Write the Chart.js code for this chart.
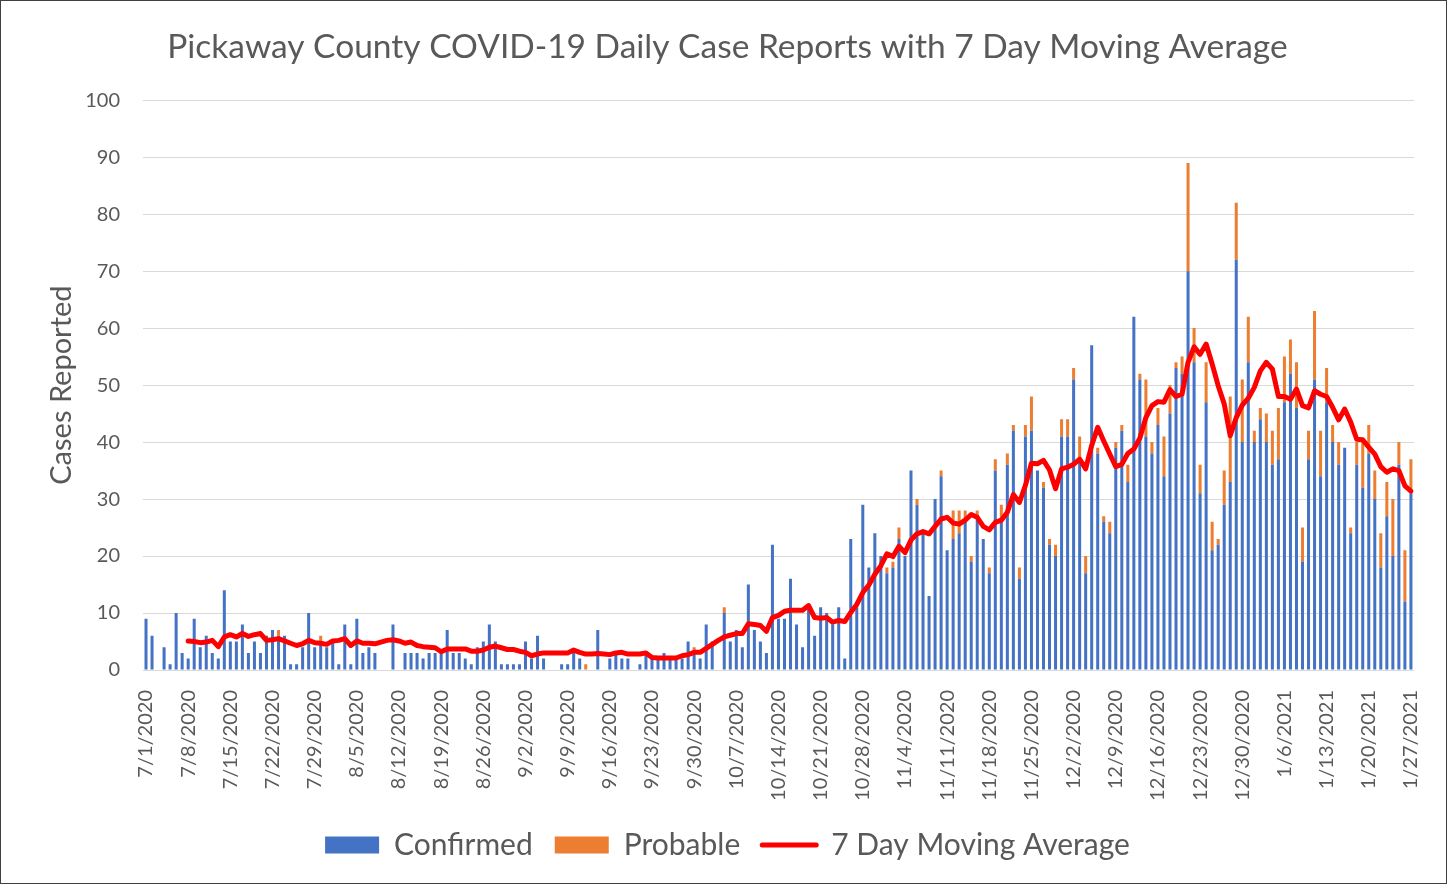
<!DOCTYPE html>
<html>
<head>
<meta charset="utf-8">
<script src="https://cdn.jsdelivr.net/npm/chart.js@4.4.1/dist/chart.umd.min.js"></script>
<style>
  html, body { margin: 0; padding: 0; background: #fff; }
  #wrap { width: 1447px; height: 884px; position: relative; }
</style>
</head>
<body>
<div id="wrap"><canvas id="c" width="1447" height="884"></canvas></div>
<script>
// ---- Data ----
const startDate = [2020, 6, 1]; // 7/1/2020
const dayCount = 211;           // 7/1/2020 .. 1/27/2021

const tickLabels = ["7/1/2020","7/8/2020","7/15/2020","7/22/2020","7/29/2020","8/5/2020","8/12/2020","8/19/2020","8/26/2020","9/2/2020","9/9/2020","9/16/2020","9/23/2020","9/30/2020","10/7/2020","10/14/2020","10/21/2020","10/28/2020","11/4/2020","11/11/2020","11/18/2020","11/25/2020","12/2/2020","12/9/2020","12/16/2020","12/23/2020","12/30/2020","1/6/2021","1/13/2021","1/20/2021","1/27/2021"];

const confirmed = [
  9,6,0,4,1,10,3,2,9,4, 6,3,2,14,5,5,8,3,5,3,
  6,7,6,6,1,1,4,10,4,5, 4,5,1,8,1,9,3,4,3,0,
  0,8,0,3,3,3,2,3,3,3, 7,3,3,2,1,4,5,8,5,1,
  1,1,1,5,2,6,2,0,0,1, 1,3,2,0,0,7,0,2,3,2,
  2,0,1,3,2,2,3,2,2,2, 5,3,2,8,5,0,10,5,7,4,
  15,7,5,3,22,9,9,16,8,4, 11,6,11,10,8,11,2,23,11,29,
  18,24,20,17,18,23,20,35,29,24, 13,30,34,21,23,24,26,19,27,23,
  17,35,26,36,42,16,41,42,35,32, 22,20,41,41,51,37,17,57,38,26,
  24,39,42,33,62,51,41,38,43,34, 45,53,52,70,54,31,47,21,22,29,
  33,72,40,54,40,44,40,36,37,47, 52,46,19,37,51,34,47,40,36,39,
  24,36,32,38,30,18,27,20,36,12, 31
];

const probable = [
  0,0,0,0,0,0,0,0,0,0, 0,0,0,0,0,0,0,0,0,0,
  0,0,1,0,0,0,0,0,0,1, 0,0,0,0,0,0,0,0,0,0,
  0,0,0,0,0,0,0,0,0,0, 0,0,0,0,0,0,0,0,0,0,
  0,0,0,0,0,0,0,0,0,0, 0,0,0,1,0,0,0,0,0,0,
  0,0,0,0,0,0,0,0,0,0, 0,1,0,0,0,0,1,0,0,0,
  0,0,0,0,0,0,0,0,0,0, 0,0,0,0,0,0,0,0,0,0,
  0,0,0,1,1,2,0,0,1,0, 0,0,1,0,5,4,2,1,1,0,
  1,2,3,2,1,2,2,6,0,1, 1,2,3,3,2,4,3,0,1,1,
  2,1,1,3,0,1,10,2,3,7, 5,1,3,19,6,5,7,5,1,6,
  15,10,11,8,2,2,5,6,9,8, 6,8,6,5,12,8,6,3,4,0,
  1,4,8,5,5,6,6,10,4,9, 6
];

const movingAvg = [
  null,null,null,null,null,null,null,5.1,5.0,4.8,
  4.9,5.2,4.1,5.8,6.2,5.8,6.4,5.9,6.2,6.4,
  5.2,5.3,5.5,5.1,4.7,4.3,4.6,5.2,4.8,4.7,
  4.5,5.1,5.2,5.5,4.3,5.1,4.7,4.7,4.6,4.9,
  5.2,5.3,5.1,4.7,4.9,4.3,4.1,4.0,3.9,3.2,
  3.7,3.7,3.7,3.7,3.3,3.3,3.5,4.0,4.2,3.9,
  3.6,3.6,3.3,3.1,2.5,2.8,3.0,3.0,3.0,3.0,
  3.0,3.5,3.1,2.8,2.8,2.9,2.8,2.7,3.0,3.1,
  2.8,2.8,2.8,3.0,2.2,2.1,2.1,2.1,2.1,2.5,
  2.7,3.1,3.1,3.8,4.5,5.2,5.8,6.1,6.4,6.4,
  8.1,8.0,7.8,6.8,9.2,9.6,10.3,10.5,10.5,10.5,
  11.3,9.2,9.1,9.2,8.4,8.7,8.5,10.1,11.5,13.6,
  14.9,16.8,18.3,20.4,19.9,21.7,20.6,22.8,23.9,24.3,
  23.9,25.2,26.5,26.8,25.8,25.6,26.3,27.3,26.8,25.2,
  24.6,25.9,26.3,27.7,30.8,29.4,32.4,36.3,36.2,36.8,
  35.1,31.8,35.3,35.6,36.1,37.0,35.3,39.4,42.6,40.2,
  37.9,35.7,36.1,38.0,38.8,40.7,44.3,46.4,47.1,47.0,
  49.2,48.0,48.4,54.0,56.7,55.4,57.2,53.7,49.9,46.7,
  41.1,44.3,46.5,47.7,49.6,52.5,54.0,52.8,48.0,48.0,
  47.5,49.3,46.4,46.0,49.0,48.4,48.0,46.1,43.9,45.8,
  43.5,40.5,40.4,39.1,37.9,35.7,34.7,35.3,35.0,32.3,
  31.4
];

// category labels: one per day
const categories = [];
for (let i = 0; i < dayCount; i++) {
  const d = new Date(startDate[0], startDate[1], startDate[2] + i);
  categories.push((d.getMonth() + 1) + '/' + d.getDate() + '/' + d.getFullYear());
}

const TXT = '#595959';
const FONT = 'Lato';

const borderPlugin = {
  id: 'outerBorder',
  beforeDraw(chart) {
    const ctx = chart.ctx;
    ctx.save();
    ctx.fillStyle = '#ffffff';
    ctx.fillRect(0, 0, chart.width, chart.height);
    ctx.restore();
  },
  afterDraw(chart) {
    const ctx = chart.ctx;
    ctx.save();
    ctx.strokeStyle = '#404040';
    ctx.lineWidth = 1;
    ctx.strokeRect(0.5, 0.5, chart.width - 1, chart.height - 1);
    ctx.restore();
  }
};

function build() {
  new Chart(document.getElementById('c'), {
    type: 'bar',
    data: {
      labels: categories,
      datasets: [
        { label: 'Confirmed', data: confirmed, backgroundColor: '#4472C4', borderWidth: 0,
          categoryPercentage: 1.0, barPercentage: 0.5, order: 1 },
        { label: 'Probable', data: probable, backgroundColor: '#ED7D31', borderWidth: 0,
          categoryPercentage: 1.0, barPercentage: 0.5, order: 1 },
        { type: 'line', label: '7 Day Moving Average', data: movingAvg,
          borderColor: '#FF0000', backgroundColor: '#FF0000', borderWidth: 5,
          pointRadius: 0, tension: 0, borderCapStyle: 'round', borderJoinStyle: 'round',
          fill: false, order: -1 }
      ]
    },
    options: {
      responsive: false,
      animation: false,
      devicePixelRatio: 1,
      layout: { padding: { left: 40, right: 32, top: 0, bottom: 14 } },
      plugins: {
        title: {
          display: true,
          text: 'Pickaway County COVID-19 Daily Case Reports with 7 Day Moving Average',
          color: TXT,
          font: { family: FONT, size: 33.5, weight: 'normal' },
          padding: { top: 27, bottom: 33 }
        },
        legend: {
          position: 'bottom',
          labels: {
            color: TXT,
            font: { family: FONT, size: 30 },
            usePointStyle: true,
            pointStyleWidth: 54,
            boxHeight: 17,
            padding: 22,
            sort: (a, b) => a.datasetIndex - b.datasetIndex,
            generateLabels(chart) {
              const items = Chart.defaults.plugins.legend.labels.generateLabels(chart);
              items.forEach(it => {
                if (it.datasetIndex === 2) {
                  it.pointStyle = 'line'; it.lineWidth = 5; it.strokeStyle = '#FF0000';
                  it.fillStyle = '#FF0000'; it.lineCap = 'round';
                } else {
                  it.pointStyle = 'rect'; it.lineWidth = 0;
                }
              });
              return items;
            }
          }
        },
        tooltip: { enabled: false }
      },
      scales: {
        x: {
          stacked: true,
          grid: { display: false },
          border: { display: false },
          ticks: {
            autoSkip: false,
            minRotation: 90,
            maxRotation: 90,
            padding: 12,
            color: TXT,
            font: { family: FONT, size: 20 },
            callback: function (value, index) {
              return index % 7 === 0 ? tickLabels[index / 7] : '';
            }
          },
          afterFit(scale) { scale.height = 138; }
        },
        y: {
          stacked: true,
          min: 0,
          max: 100,
          grid: { color: '#D9D9D9', lineWidth: 1, drawTicks: false },
          border: { display: false },
          ticks: {
            stepSize: 10,
            padding: 23,
            color: TXT,
            font: { family: FONT, size: 20 }
          },
          title: {
            display: true,
            text: 'Cases Reported',
            color: TXT,
            font: { family: FONT, size: 29, weight: 'normal' }
          },
          afterFit(scale) { scale.width = 103; }
        }
      }
    },
    plugins: [borderPlugin]
  });
}

Promise.all([
  document.fonts.load('33px Lato'),
  document.fonts.load('20px Lato'),
  document.fonts.load('30px Lato')
]).then(build, build);
</script>
</body>
</html>
